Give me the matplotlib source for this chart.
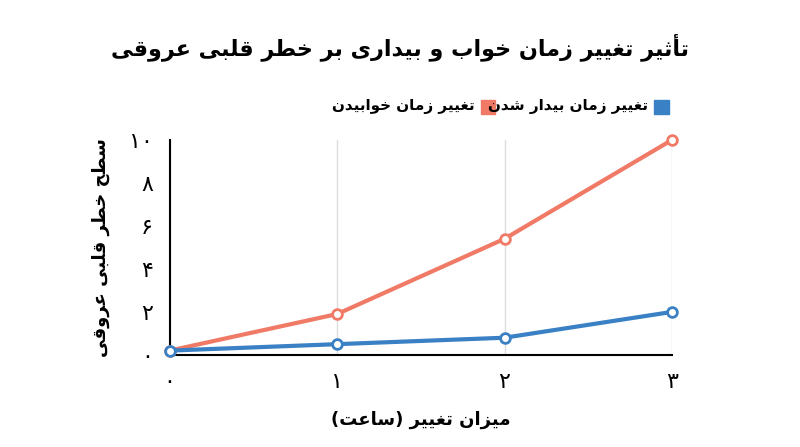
import unicodedata
import matplotlib
matplotlib.use("Agg")
import matplotlib.pyplot as plt

NONJOIN = set("اأآإدذرزژو")
def is_ar(c):
    return '\u0620' <= c <= '\u06FF' and c not in '۰۱۲۳۴۵۶۷۸۹'
def form(c, f):
    try:
        return unicodedata.lookup(unicodedata.name(c) + " " + f + " FORM")
    except Exception:
        return c
def shape(s):
    out = []
    for i, c in enumerate(s):
        if not is_ar(c):
            out.append(c); continue
        p = s[i-1] if i > 0 else ''
        n = s[i+1] if i+1 < len(s) else ''
        jp = bool(p) and is_ar(p) and p not in NONJOIN
        jn = bool(n) and is_ar(n) and c not in NONJOIN
        f = "MEDIAL" if jp and jn else "FINAL" if jp else "INITIAL" if jn else "ISOLATED"
        out.append(form(c, f))
    mir = {'(': ')', ')': '('}
    return ''.join(mir.get(c, c) for c in reversed(out))

x = [0, 1, 2, 3]
sleep = [0.2, 1.9, 5.4, 10.0]
wake = [0.2, 0.5, 0.8, 2.0]
xticks = ['۰', '۱', '۲', '۳']
yticks = [0, 2, 4, 6, 8, 10]
ylabels = ['۰', '۲', '۴', '۶', '۸', '۱۰']
title = "تأثیر تغییر زمان خواب و بیداری بر خطر قلبی عروقی"
xlab = "میزان تغییر (ساعت)"
ylab = "سطح خطر قلبی عروقی"
leg_sleep = "تغییر زمان خوابیدن"
leg_wake = "تغییر زمان بیدار شدن"

plt.rcParams['font.family'] = ['DejaVu Sans']
RED, BLUE = '#f07a66', '#3a80c4'
fig = plt.figure(figsize=(8, 4.47), dpi=100)
ax = fig.add_axes([0.212, 0.206, 0.628, 0.481])
for data, col in [(sleep, RED), (wake, BLUE)]:
    ax.plot(x, data, color=col, lw=3, marker='o', ms=7, mfc='white', mec=col, mew=2, clip_on=False, zorder=3)
ax.set_xlim(0, 3); ax.set_ylim(0, 10)
ax.set_xticks(x); ax.set_xticklabels(xticks, fontsize=16)
ax.set_yticks(yticks); ax.set_yticklabels(ylabels, fontsize=16)
ax.tick_params(length=0, pad=12)
ax.grid(axis='x', color='#dddddd', lw=1)
for s in ['top', 'right']:
    ax.spines[s].set_visible(False)
ax.spines['left'].set_linewidth(1.5); ax.spines['bottom'].set_linewidth(1.5)
ax.set_xlabel(shape(xlab), fontsize=13, fontweight='bold', labelpad=14)
ax.set_ylabel(shape(ylab), fontsize=13, fontweight='bold', labelpad=14)
fig.text(0.5, 0.895, shape(title), ha='center', va='center', fontsize=16, fontweight='bold')
# legend
fig.patches.append(plt.Rectangle((0.818, 0.745), 0.018, 0.032, color=BLUE, transform=fig.transFigure))
fig.text(0.81, 0.761, shape(leg_wake), ha='right', va='center', fontsize=11, fontweight='semibold')
fig.patches.append(plt.Rectangle((0.601, 0.745), 0.018, 0.032, color=RED, transform=fig.transFigure))
fig.text(0.593, 0.761, shape(leg_sleep), ha='right', va='center', fontsize=11, fontweight='semibold')
fig.savefig("out.png", dpi=100, facecolor='white')
